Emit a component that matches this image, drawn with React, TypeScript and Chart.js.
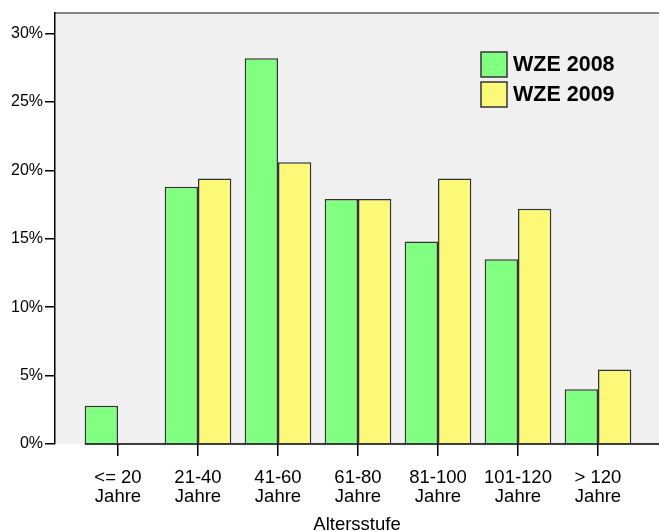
import React, { useEffect, useRef } from 'react';
import { Chart, registerables } from 'chart.js';

Chart.register(...registerables);

const categories: string[][] = [
  ['<= 20', 'Jahre'],
  ['21-40', 'Jahre'],
  ['41-60', 'Jahre'],
  ['61-80', 'Jahre'],
  ['81-100', 'Jahre'],
  ['101-120', 'Jahre'],
  ['> 120', 'Jahre'],
];
const series2008 = [2.8, 18.8, 28.2, 17.9, 14.8, 13.5, 4.0];
const series2009 = [0, 19.4, 20.6, 17.9, 19.4, 17.2, 5.45];
const seriesLabels = ['WZE 2008', 'WZE 2009'];
const seriesColors = ['#80FF80', '#FCF878'];
const yTicks = [0, 5, 10, 15, 20, 25, 30];
const xTitle = 'Altersstufe';

const FONT = "Arial, 'Liberation Sans', sans-serif";

const bgPlugin = {
  id: 'bgPlugin',
  beforeDraw(chart: any) {
    const { ctx, chartArea, width, height } = chart;
    ctx.save();
    ctx.fillStyle = '#FFFFFF';
    ctx.fillRect(0, 0, width, height);
    ctx.fillStyle = '#F0F0F0';
    ctx.fillRect(chartArea.left, chartArea.top, chartArea.right - chartArea.left, chartArea.bottom - chartArea.top);
    ctx.strokeStyle = '#606060';
    ctx.lineWidth = 1.5;
    ctx.beginPath();
    ctx.moveTo(chartArea.left, chartArea.top);
    ctx.lineTo(chartArea.right, chartArea.top);
    ctx.stroke();
    ctx.restore();
  },
  afterDatasetsDraw(chart: any) {
    const { ctx, chartArea } = chart;
    const meta = chart.getDatasetMeta(0);
    const first: any = meta.data[0];
    if (!first) return;
    const y0 = chart.scales.y.getPixelForValue(0);
    const x0 = first.x - first.width / 2;
    ctx.save();
    ctx.strokeStyle = '#000';
    ctx.lineWidth = 1.5;
    ctx.beginPath();
    ctx.moveTo(x0, y0);
    ctx.lineTo(chartArea.right, y0);
    ctx.stroke();
    ctx.restore();
  },
  afterDraw(chart: any) {
    const { ctx } = chart;
    const ds = chart.data.datasets;
    ctx.save();
    ds.forEach((d: any, i: number) => {
      const bx = 481;
      const by = 52 + i * 30;
      ctx.fillStyle = d.backgroundColor;
      ctx.fillRect(bx, by, 26, 25);
      ctx.strokeStyle = '#333';
      ctx.lineWidth = 1.5;
      ctx.strokeRect(bx, by, 26, 25);
      ctx.fillStyle = '#000';
      ctx.font = `bold 21.5px ${FONT}`;
      ctx.textBaseline = 'middle';
      ctx.textAlign = 'left';
      ctx.fillText(d.label, 513, by + 13.5);
    });
    ctx.restore();
  },
};

export default function App() {
  const ref = useRef<HTMLCanvasElement>(null);
  useEffect(() => {
    if (!ref.current) return;
    const mk = (vals: number[]) => vals.map((v, i) => ({ x: i, y: v }));
    const chart = new Chart(ref.current, {
      type: 'bar',
      data: {
        datasets: [
          {
            label: seriesLabels[0],
            data: mk(series2008),
            backgroundColor: seriesColors[0],
            borderColor: '#333',
            borderWidth: 1.5,
          },
          {
            label: seriesLabels[1],
            data: mk(series2009),
            backgroundColor: seriesColors[1],
            borderColor: '#333',
            borderWidth: 1.5,
          },
        ] as any,
      },
      options: {
        responsive: false,
        animation: false,
        devicePixelRatio: 1,
        layout: { padding: { top: 13, left: 0, right: 0, bottom: 0 } },
        datasets: { bar: { categoryPercentage: 0.833, barPercentage: 1 } } as any,
        plugins: { legend: { display: false }, tooltip: { enabled: false } },
        scales: {
          x: {
            type: 'linear',
            offset: false,
            min: -0.7875,
            max: 6.7625,
            afterBuildTicks: (s: any) => {
              s.ticks = categories.map((_, i) => ({ value: i }));
            },
            afterFit: (s: any) => {
              s.height = 87;
            },
            border: { display: false },
            grid: { drawOnChartArea: false, drawTicks: true, tickLength: 12, color: '#000', lineWidth: 1.5, offset: false },
            ticks: {
              autoSkip: false,
              maxRotation: 0,
              minRotation: 0,
              padding: 13,
              color: '#000',
              font: { family: FONT, size: 18.5, lineHeight: 1.0 },
              callback: (v: any) => categories[v] ?? '',
            },
            title: {
              display: true,
              text: xTitle,
              color: '#000',
              padding: 0,
              font: { family: FONT, size: 18.5, lineHeight: 0.7 },
            },
          },
          y: {
            min: 0,
            max: 31.5,
            afterBuildTicks: (s: any) => {
              s.ticks = yTicks.map((v) => ({ value: v }));
            },
            afterFit: (s: any) => {
              s.width = 55;
            },
            border: { display: true, color: '#000', width: 1.5 },
            grid: { drawOnChartArea: false, drawTicks: true, tickLength: 10, color: '#000', lineWidth: 1.5 },
            ticks: {
              padding: 2,
              color: '#000',
              font: { family: FONT, size: 16 },
              callback: (v: any) => `${v}%`,
            },
          },
        },
      } as any,
      plugins: [bgPlugin],
    });
    return () => chart.destroy();
  }, []);
  return (
    <div style={{ position: 'absolute', left: 0, top: 0, width: 659, height: 531 }}>
      <canvas ref={ref} width={659} height={531} style={{ display: 'block', width: 659, height: 531 }} />
    </div>
  );
}
